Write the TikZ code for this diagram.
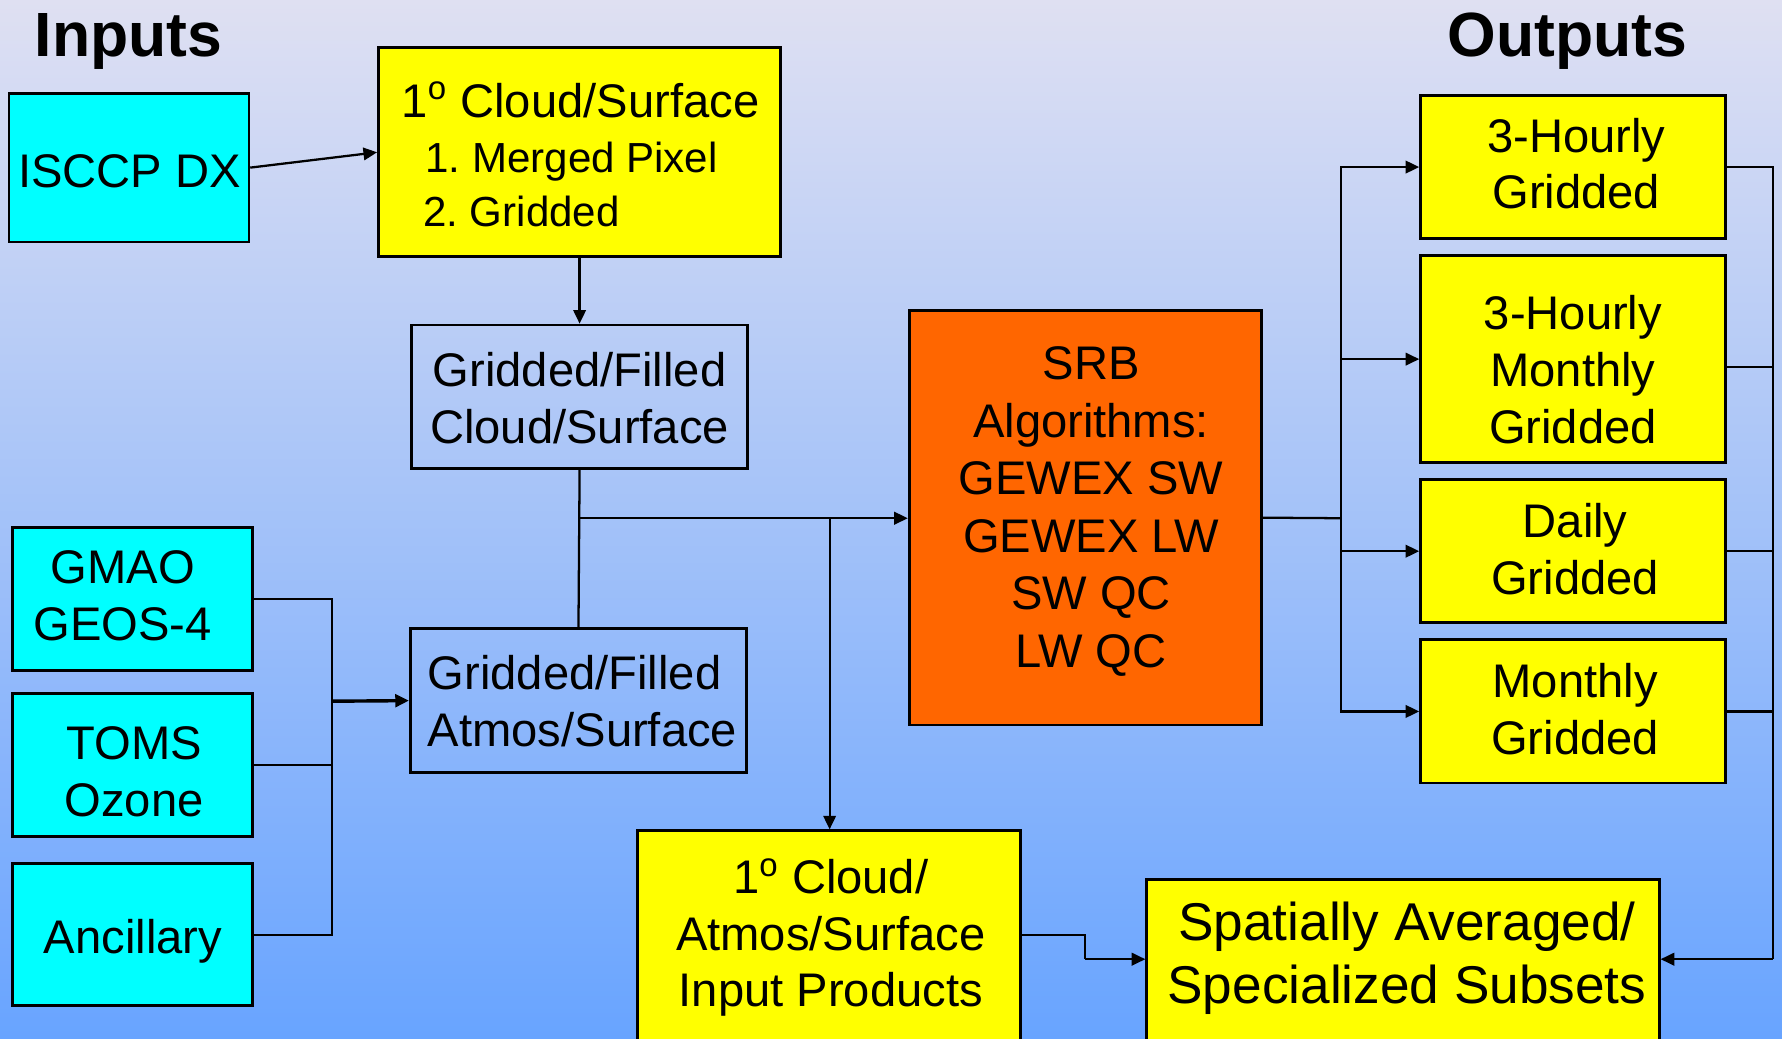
\documentclass[tikz,border=0pt]{standalone}
\usepackage{fontspec}
\setmainfont{Liberation Sans}
\usetikzlibrary{arrows.meta,calc}
\definecolor{bgtop}{RGB}{223,224,242}
\definecolor{bgmid}{RGB}{160,200,248}
\definecolor{bgbot}{RGB}{104,164,255}
\definecolor{cyanbox}{RGB}{0,255,255}
\definecolor{yelbox}{RGB}{255,255,0}
\definecolor{orbox}{RGB}{255,102,0}
\tikzset{
  boxbase/.style={draw=black, line width=1.2pt, inner sep=0pt},
  cbox/.style={boxbase, fill=cyanbox},
  ybox/.style={boxbase, fill=yelbox},
  obox/.style={boxbase, fill=orbox},
  ebox/.style={boxbase},
  txt/.style={inner sep=0pt, align=center, font=\fontsize{20.75pt}{25pt}\selectfont},
  txtl/.style={txt, align=left},
  smalltxt/.style={inner sep=0pt, anchor=base west, font=\fontsize{18.5pt}{22pt}\selectfont},
  bigtxt/.style={inner sep=0pt, align=center, font=\fontsize{23.4pt}{27.5pt}\selectfont},
  title/.style={inner sep=0pt, anchor=base, font=\fontsize{27.5pt}{30pt}\selectfont\bfseries},
  conn/.style={draw=black, line width=1pt},
  arr/.style={conn, -{Triangle[length=6pt,width=5.5pt]}},
}
\frenchspacing
\begin{document}
\begin{tikzpicture}[x=0.5pt,y=-0.5pt]
\useasboundingbox (0,0) rectangle (1568,914);
\clip (0,0) rectangle (1568,914);
\shade[top color=bgtop, middle color=bgmid, bottom color=bgbot] (0,0) rectangle (1568,914);

% titles
\node[title] (tin) at (113,50) {Inputs};
\node[title] (tout) at (1379,50) {Outputs};

% boxes
\node[cbox, minimum width=105.5pt, minimum height=65.5pt] (isccp) at (113.5,147.5) {};
\node[ybox, minimum width=177pt, minimum height=92pt] (cs) at (510,134) {};
\node[ebox, minimum width=148pt, minimum height=63pt] (gfc) at (510,349) {};
\node[ebox, minimum width=148pt, minimum height=63.5pt] (gfa) at (509,616.5) {};
\node[cbox, minimum width=105.5pt, minimum height=63pt] (gmao) at (116.5,527) {};
\node[cbox, minimum width=105.5pt, minimum height=63pt] (toms) at (116.5,673) {};
\node[cbox, minimum width=105.5pt, minimum height=62.5pt] (anc) at (116.5,822.5) {};
\node[obox, minimum width=155pt, minimum height=182.5pt] (srb) at (955,455.5) {};
\node[ybox, minimum width=134pt, minimum height=63pt] (o1) at (1384,147) {};
\node[ybox, minimum width=134pt, minimum height=91pt] (o2) at (1384,316) {};
\node[ybox, minimum width=134pt, minimum height=63pt] (o3) at (1384,485) {};
\node[ybox, minimum width=134pt, minimum height=63pt] (o4) at (1384,626) {};
\node[ybox, minimum width=168.5pt, minimum height=109.5pt] (ip) at (729.5,840.5) {};
\node[ybox, minimum width=225.5pt, minimum height=88pt] (sa) at (1234.5,862) {};

% texts
\node[txt] (isccpt) at (114,151) {ISCCP DX};
\node[txt, anchor=base west] (cst1) at (353,103) {1\textsuperscript{o} Cloud/Surface};
\node[smalltxt] (cst2) at (374,152) {1. Merged Pixel};
\node[smalltxt] (cst3) at (372,199) {2. Gridded};
\node[txt] (gfct) at (510,350) {Gridded/Filled\\Cloud/Surface};
\node[txtl, anchor=west] (gfat) at (376,617) {Gridded/Filled\\Atmos/Surface};
\node[txt] (gmaot) at (108,524) {GMAO\\GEOS-4};
\node[txt] (tomst) at (118,679) {TOMS\\Ozone};
\node[txt] (anct) at (117,828) {Ancillary};
\node[txt, font=\fontsize{20.75pt}{25.3pt}\selectfont] (srbt) at (960,450) {SRB\\Algorithms:\\GEWEX SW\\GEWEX LW\\SW QC\\LW QC};
\node[txt] (o1t) at (1387,144) {3-Hourly\\Gridded};
\node[txt] (o2t) at (1384,325) {3-Hourly\\Monthly\\Gridded};
\node[txt] (o3t) at (1386,483) {Daily\\Gridded};
\node[txt] (o4t) at (1386,624) {Monthly\\Gridded};
\node[txt] (ipt) at (731,825) {1\textsuperscript{o} Cloud/\\Atmos/Surface\\Input Products};
\node[bigtxt] (sat) at (1238,843) {Spatially Averaged/\\Specialized Subsets};

% connectors
\coordinate (j1) at (510,456);
\coordinate (j2) at (730,456);
\coordinate (bxj) at (292,617);
\coordinate (rx) at (1180,456);
\coordinate (ox) at (1560,844);
\coordinate (mid) at (955,844);

\draw[arr] (isccp.east) -- (cs.west);
\draw[arr] (cs.south) -- (gfc.north);
\draw[conn] (gfc.south) -- (gfa.north);
\draw[arr] (j1) -- (srb.west |- j1);
\draw[arr] (j2) -- (j2 |- ip.north);

\draw[conn] (gmao.east) -| (bxj);
\draw[conn] (anc.east) -| (bxj);
\draw[conn] (toms.east) -- (toms.east -| bxj);
\draw[arr, line width=1.5pt] (bxj) -- (gfa.west);

\draw[conn] (srb.east) -- (rx);
\draw[arr] (rx) |- (o1.west);
\draw[arr] (rx) |- (o2.west);
\draw[arr] (rx) |- (o3.west);
\draw[arr] (rx) |- (o4.west);

\draw[conn] (o1.east) -| (ox);
\draw[conn] ([yshift=-3.5pt]o2.east) -- ([yshift=-3.5pt]o2.east -| ox);
\draw[conn] (o3.east) -- (o3.east -| ox);
\draw[conn] (o4.east) -- (o4.east -| ox);
\draw[arr] (ox) -- (sa.east |- ox);

\draw[conn] ([yshift=8.75pt]ip.east) -| (mid);
\draw[arr] (mid) -- (sa.west |- mid);
\end{tikzpicture}
\end{document}
